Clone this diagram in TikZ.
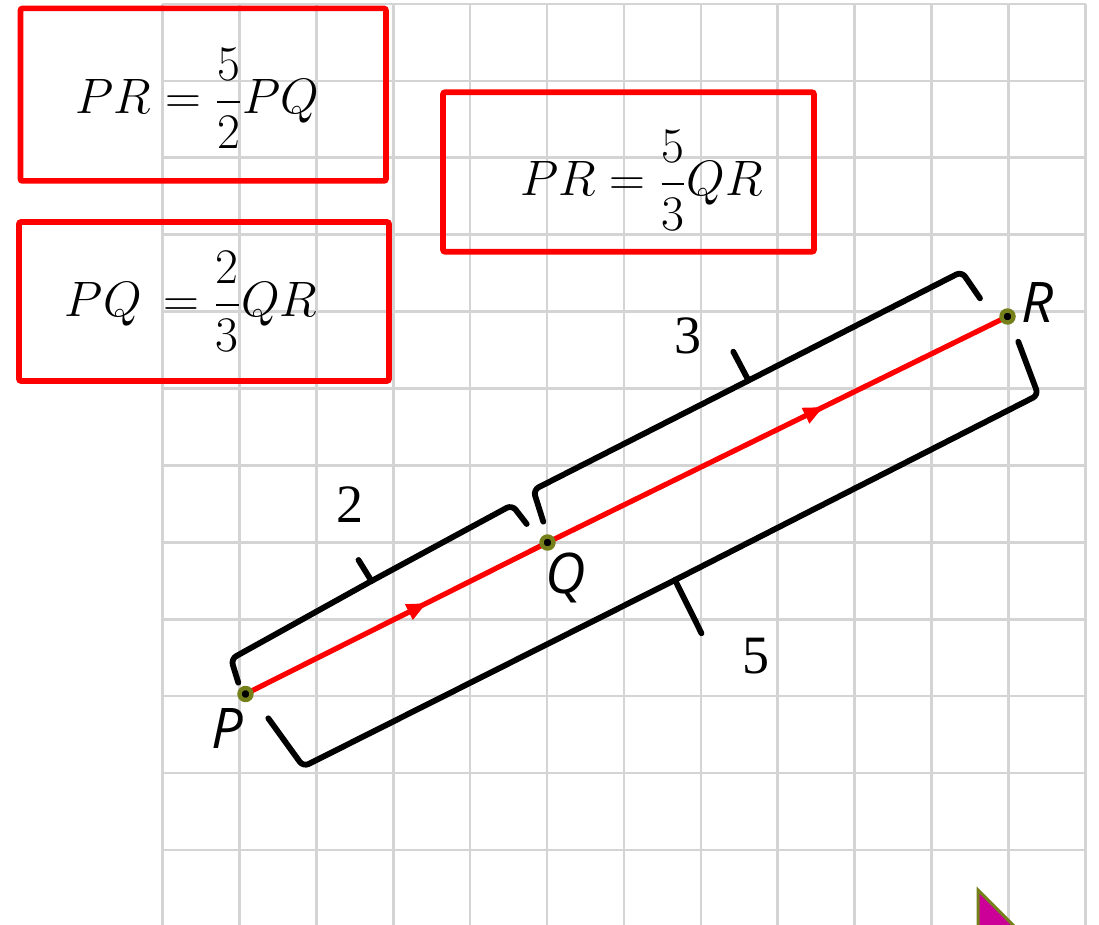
\documentclass[tikz,border=0pt]{standalone}
\usepackage{amsmath}
\usepackage[no-math]{fontspec}
\newfontfamily\numfont{Liberation Serif}
\newfontfamily\labelfont{Open Sans}
\usetikzlibrary{arrows.meta,decorations.markings}
\definecolor{olivept}{RGB}{117,128,26}
\definecolor{gridgray}{RGB}{212,212,212}
\definecolor{magentatri}{RGB}{204,0,153}
\begin{document}
\begin{tikzpicture}[x=0.5pt,y=-0.5pt,
  gridline/.style={gridgray,line width=1.3pt},
  eqbox/.style={draw=red,line width=2.8pt,rounded corners=1pt,inner sep=0pt},
  eqtext/.style={anchor=base,inner sep=0pt,font=\fontsize{24}{28}\selectfont},
  ptlabel/.style={anchor=base,inner sep=0pt,font=\labelfont\itshape\fontsize{28}{32}\selectfont},
  numlabel/.style={anchor=base,inner sep=0pt,font=\numfont\fontsize{27}{30}\selectfont},
  bracestyle/.style={black,line width=2.9pt,rounded corners=3pt,line cap=round,line join=round},
  redseg/.style={red,line width=2.6pt,postaction={decorate},
    decoration={markings,mark=at position 0.6 with {\arrow{Triangle[length=10pt,width=8pt]}}}},
  ptdot/.style={draw=olivept,line width=2.2pt,fill=black}
]
\useasboundingbox (0,0) rectangle (1099,925);
\fill[white] (0,0) rectangle (1099,925);

% grid
\foreach \i in {0,...,12}
  \draw[gridline] ({162.5+76.9*\i},4) -- ({162.5+76.9*\i},930);
\foreach \j in {0,...,11}
  \draw[gridline] (161.8,{4+76.9*\j}) -- (1086,{4+76.9*\j});

% boxes
\node[eqbox,minimum width=182.75pt,minimum height=86.25pt] (box1) at (203.2,94.7) {};
\node[eqbox,minimum width=185pt,minimum height=79.5pt] (box2) at (204,301.5) {};
\node[eqbox,minimum width=185.5pt,minimum height=79.75pt] (box3) at (628.5,172) {};
\node[eqtext] (eq1) at (197.5,114) {$PR=\dfrac{5}{2}PQ$};
\node[eqtext] (eq2) at (191,317) {$PQ\,=\dfrac{2}{3}QR$};
\node[eqtext] (eq3) at (641.5,196) {$PR=\dfrac{5}{3}QR$};

% points
\coordinate (P) at (245.5,694);
\coordinate (Q) at (547.5,542.5);
\coordinate (R) at (1007.5,316.5);

% braces
\coordinate (b2a) at (238.3,682.7);
\coordinate (b2b) at (231,659);
\coordinate (b2m) at (371.5,581);
\coordinate (b2t) at (358.5,560);
\coordinate (b2c) at (512,505);
\coordinate (b2d) at (526.7,524);
\draw[bracestyle] (b2a) -- (b2b) -- (b2m) -- (b2c) -- (b2d);
\draw[bracestyle] (b2m) -- (b2t);

\coordinate (b3a) at (543.3,521.7);
\coordinate (b3b) at (533.3,490);
\coordinate (b3m) at (748.5,380.5);
\coordinate (b3t) at (733.3,351.7);
\coordinate (b3c) at (961.7,271.7);
\coordinate (b3d) at (980,298.3);
\draw[bracestyle] (b3a) -- (b3b) -- (b3m) -- (b3c) -- (b3d);
\draw[bracestyle] (b3m) -- (b3t);

\coordinate (b5a) at (268.3,718.3);
\coordinate (b5b) at (303.3,766.7);
\coordinate (b5m) at (675,580);
\coordinate (b5t) at (701.5,633.3);
\coordinate (b5c) at (1038.3,395);
\coordinate (b5d) at (1018.3,341.7);
\draw[bracestyle] (b5a) -- (b5b) -- (b5m) -- (b5c) -- (b5d);
\draw[bracestyle] (b5m) -- (b5t);

% segment
\draw[redseg] (P) -- (Q);
\draw[redseg] (Q) -- (R);
\draw[ptdot] (P) circle[radius=3pt];
\draw[ptdot] (Q) circle[radius=3pt];
\draw[ptdot] (R) circle[radius=3pt];

% labels
\node[ptlabel] (lP) at (227,748) {P};
\node[ptlabel] (lQ) at (566,593) {Q};
\node[ptlabel] (lR) at (1038,323) {R};
\node[numlabel] (n2) at (350,523) {2};
\node[numlabel] (n3) at (688,354) {3};
\node[numlabel] (n5) at (756,673) {5};

% corner triangle
\begin{scope}
\clip (0,0) rectangle (1099,925);
\draw[olivept,line width=1.5pt,fill=magentatri] (978,890) -- (1040,952) -- (978,952) -- cycle;
\end{scope}
\end{tikzpicture}
\end{document}
